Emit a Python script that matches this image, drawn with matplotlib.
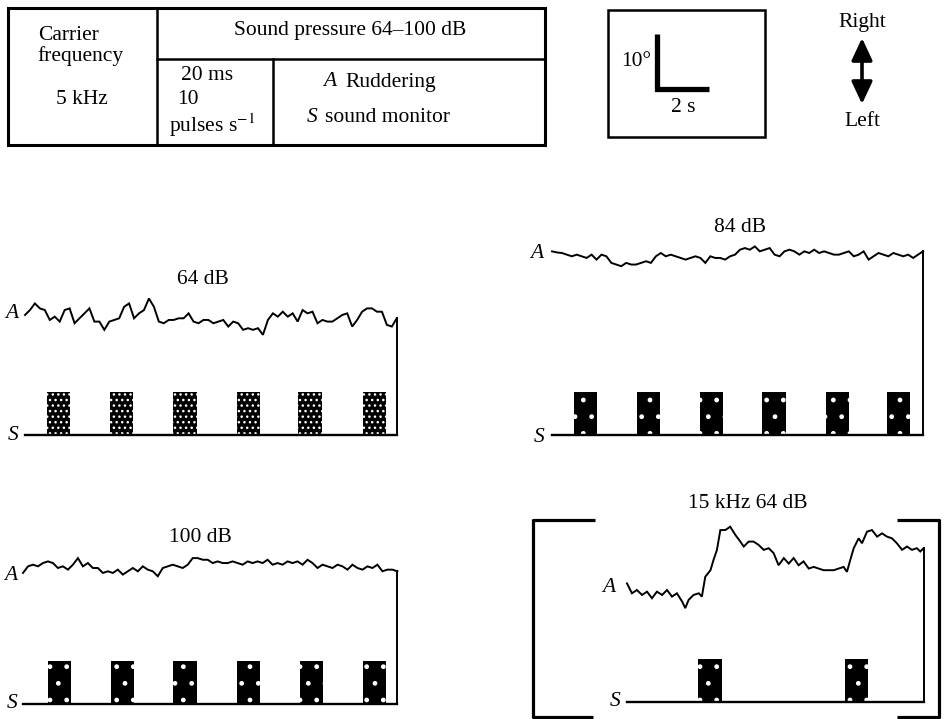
import numpy as np
import matplotlib
matplotlib.use('Agg')
import matplotlib.pyplot as plt
from matplotlib.patches import Rectangle

plt.rcParams['font.family'] = ['Liberation Serif', 'DejaVu Serif']
plt.rcParams['mathtext.fontset'] = 'stix'
plt.rcParams['hatch.linewidth'] = 1.0

# ---------------- data (ruddering angle in degrees, time in s) ----------------
rudder_64 = [0, 0.9, 2.1, 1.2, 0.9, -0.9, -0.3, -1.2, 0.9, 1.2, -1.5, -0.6, 0.3, 1.2,
             -1.2, -1.2, -2.7, -1.2, -0.9, -0.6, 1.5, 2.1, -0.6, 0.3, 0.9, 3.0, 1.5,
             -1.2, -1.5, -0.9, -0.9, -0.6, -0.6, 0.3, -1.2, -1.5, -0.9, -0.9, -1.5,
             -1.2, -0.9, -2.1, -1.2, -1.5, -2.7, -2.4, -2.7, -2.4, -3.6, -0.9, 0.3,
             -0.3, 0.6, -0.3, 0.3, -1.2, 0.9, 0.3, 0.6, -1.5, -0.9, -1.2, -1.2, -0.6,
             0, 0.3, -2.1, -0.9, 0.6, 1.2, 1.2, 0.6, 0.6, -1.8, -2.1, -0.6]
rudder_84 = [0.3, 0.1, 0, -0.3, -0.6, -0.3, -0.6, -0.9, -0.3, -1.2, -0.3, -0.6, -1.8,
             -2.1, -2.4, -1.8, -2.1, -2.1, -1.8, -1.5, -1.8, -0.6, 0, -0.6, -0.3, -0.6,
             -0.9, -1.2, -0.9, -0.6, -0.9, -1.8, -0.6, -0.9, -0.9, -1.2, -0.6, -0.3,
             0.6, 0.9, 0.6, 1.2, 0.3, 0.6, 0.9, -0.3, -0.6, 0.3, 0.6, 0.3, -0.3, 0.3,
             0, 0.6, 0, 0.3, 0, -0.3, -0.3, 0, 0.3, -0.6, -0.3, 0.3, -1.2, -0.6, 0,
             -0.3, -0.6, 0, -0.3, -0.6, -0.3, -0.9, -0.3, 0.3]
rudder_100 = [-0.9, 0.3, 0.6, 0.3, 0.9, 1.2, 0.9, 0, 0.3, -0.3, 0.6, 1.8, 0.3, 0.9, 0,
              0, -0.9, -0.6, -0.9, -0.3, -1.2, -0.6, 0, -0.6, 0.3, -0.3, -0.6, -1.5, 0,
              0.3, 0.6, 0.3, 0, 0.6, 1.8, 1.8, 1.5, 1.5, 0.9, 1.2, 0.9, 0.9, 1.2, 0.9,
              0.6, 1.2, 0.9, 1.2, 0.9, 1.5, 0.6, 0.9, 0.6, 1.2, 0.9, 1.2, 0.6, 1.5, 0.9,
              0, 0.6, 0.3, 0, 0.6, 0.3, -0.3, 0.6, 0, -0.3, 0.3, 0, 0.6, -0.6, -0.3,
              -0.3, -0.6]
time_15k = [0, 0.19, 0.38, 0.58, 0.77, 0.96, 1.15, 1.35, 1.54, 1.73, 1.92, 2.12, 2.24,
            2.37, 2.56, 2.76, 2.88, 3.01, 3.21, 3.33, 3.46, 3.59, 3.78, 3.97, 4.17,
            4.36, 4.49, 4.68, 4.87, 5.06, 5.26, 5.45, 5.64, 5.83, 6.03, 6.22, 6.41,
            6.60, 6.79, 6.99, 7.18, 7.37, 7.56, 7.76, 7.95, 8.14, 8.33, 8.46, 8.59,
            8.72, 8.91, 9.04, 9.23, 9.42, 9.62, 9.81, 10.0, 10.19, 10.38, 10.58, 10.77,
            10.96, 11.15, 11.28, 11.41]
rudder_15k = [1.2, -0.6, 0, -0.9, -0.3, -1.5, -0.3, -0.9, 0, -1.2, -0.6, -2.1, -3.3,
              -1.8, -0.9, -0.6, -1.2, 2.4, 3.6, 5.5, 7.3, 10.9, 10.9, 11.5, 10.0, 8.8,
              7.9, 8.8, 8.8, 8.2, 7.3, 7.6, 6.7, 4.5, 5.8, 4.8, 5.8, 4.5, 5.2, 3.9, 4.2,
              3.9, 3.6, 3.6, 3.6, 3.9, 4.2, 3.3, 5.5, 7.6, 9.4, 8.5, 10.6, 10.9, 9.7,
              10.3, 9.7, 9.4, 8.5, 7.3, 7.9, 7.3, 7.6, 7.0, 7.6]
duration_64, duration_84, duration_100 = 14.3, 14.27, 14.4
bursts_64 = [1.29, 3.71, 6.15, 8.60, 10.96, 13.44]
bursts_84 = [1.29, 3.71, 6.13, 8.54, 10.98, 13.33]
bursts_100 = [1.40, 3.83, 6.23, 8.67, 11.10, 13.52]
bursts_15k = [3.19, 8.83]
titles = ['64 dB', '84 dB', '100 dB', '15 kHz 64 dB']

# ---------------- layout ----------------
W, H = 944, 719
PX_PER_S = 26.0
PX_PER_DEG = 5.5
BURST_LEN = 0.9
BURST_DEG = 7.9
FS = 15.5

fig = plt.figure(figsize=(W / 100, H / 100), dpi=100)
ax0 = fig.add_axes([0, 0, 1, 1])
ax0.set_xlim(0, W)
ax0.set_ylim(H, 0)
ax0.axis('off')


def unit_axes(x0, y0, xl, xr, yt, yb):
    left, right, top, bottom = x0 - xl, x0 + xr, y0 - yt, y0 + yb
    ax = fig.add_axes([left / W, 1 - bottom / H, (right - left) / W, (bottom - top) / H])
    ax.set_xlim(-xl / PX_PER_S, xr / PX_PER_S)
    ax.set_ylim(-yb / PX_PER_DEG, yt / PX_PER_DEG)
    ax.axis('off')
    return ax


def panel(x0, yA, yS, t, vals, dur, bursts, hatch):
    s_deg = -(yS - yA) / PX_PER_DEG
    ax = unit_axes(x0, yA, 30, dur * PX_PER_S + 20, 70, (yS - yA) + 20)
    ax.plot(t, vals, color='black', lw=1.4, solid_joinstyle='miter')
    ax.plot([dur, dur], [vals[-1], s_deg], color='black', lw=1.4)
    ax.plot([0, dur], [s_deg, s_deg], color='black', lw=1.7)
    ax.bar(bursts, BURST_DEG, width=BURST_LEN, bottom=s_deg, color='black',
           edgecolor='white', lw=0, hatch=hatch)
    return ax


panel(25, 315, 435, np.linspace(0, duration_64, len(rudder_64)), rudder_64,
      duration_64, bursts_64, '...')
panel(552, 253, 435, np.linspace(0, duration_84, len(rudder_84)), rudder_84,
      duration_84, bursts_84, '.')
panel(23, 568, 704, np.linspace(0, duration_100, len(rudder_100)), rudder_100,
      duration_100, bursts_100, '.')
panel(627, 590, 702, np.array(time_15k), rudder_15k, time_15k[-1], bursts_15k, '.')

# panel titles and A/S labels
for (x, y), txt in zip([(203, 279), (740, 228), (200, 537), (748, 504)], titles):
    ax0.text(x, y, txt, fontsize=FS, ha='center', va='center')
for x, y in [(12, 314), (537, 254), (11, 575), (609, 587)]:
    ax0.text(x, y, 'A', fontsize=FS, style='italic', ha='center', va='center')
for x, y in [(13, 435), (539, 437), (12, 704), (615, 702)]:
    ax0.text(x, y, 'S', fontsize=FS, style='italic', ha='center', va='center')

# brackets around 15 kHz panel
bk = dict(color='black', lw=2.3, solid_capstyle='butt')
ax0.plot([595, 533, 533, 593], [520, 520, 717, 717], **bk)
ax0.plot([897, 939, 939, 897], [520, 520, 717, 717], **bk)

# ---------------- legend table ----------------
tb = dict(color='black', lw=1.8, solid_capstyle='projecting')
ax0.add_patch(Rectangle((8, 8), 537, 137, fill=False, lw=2.2, ec='black'))
ax0.plot([157, 157], [8, 145], **tb)
ax0.plot([157, 545], [59, 59], **tb)
ax0.plot([273, 273], [59, 145], **tb)
ax0.text(38, 35, 'Carrier', fontsize=FS, ha='left', va='center')
ax0.text(37, 56, 'frequency', fontsize=FS, ha='left', va='center')
ax0.text(82, 99, '5 kHz', fontsize=FS, ha='center', va='center')
ax0.text(350, 31, 'Sound pressure 64\u2013100 dB', fontsize=FS, ha='center', va='center')
ax0.text(207, 76, '20 ms', fontsize=FS, ha='center', va='center')
ax0.text(188, 100, '10', fontsize=FS, ha='center', va='center')
ax0.text(212, 125, r'pulses s$^{-1}$', fontsize=FS, ha='center', va='center')
ax0.text(330, 82, 'A', fontsize=FS, style='italic', ha='center', va='center')
ax0.text(345, 82, 'Ruddering', fontsize=FS, ha='left', va='center')
ax0.text(312, 117, 'S', fontsize=FS, style='italic', ha='center', va='center')
ax0.text(325, 117, 'sound monitor', fontsize=FS, ha='left', va='center')

# ---------------- scale box ----------------
ax0.add_patch(Rectangle((608, 10), 157, 127, fill=False, lw=1.8, ec='black'))
sc = unit_axes(657, 89, 5, 60, 60, 5)
sc.plot([0, 0, 2], [10, 0, 0], color='black', lw=3.8, solid_joinstyle='miter',
        solid_capstyle='butt')
ax0.text(651, 62, '10\u00b0', fontsize=FS, ha='right', va='center')
ax0.text(683, 107, '2 s', fontsize=FS, ha='center', va='center')

# ---------------- direction arrow ----------------
ax0.annotate('', xy=(862, 38), xytext=(862, 104),
             arrowprops=dict(arrowstyle='<|-|>,head_length=0.75,head_width=0.35',
                             color='black', lw=2.6, mutation_scale=18,
                             shrinkA=0, shrinkB=0))
ax0.text(862, 22, 'Right', fontsize=FS, ha='center', va='center')
ax0.text(862, 122, 'Left', fontsize=FS, ha='center', va='center')

fig.savefig('out.png', dpi=100)
